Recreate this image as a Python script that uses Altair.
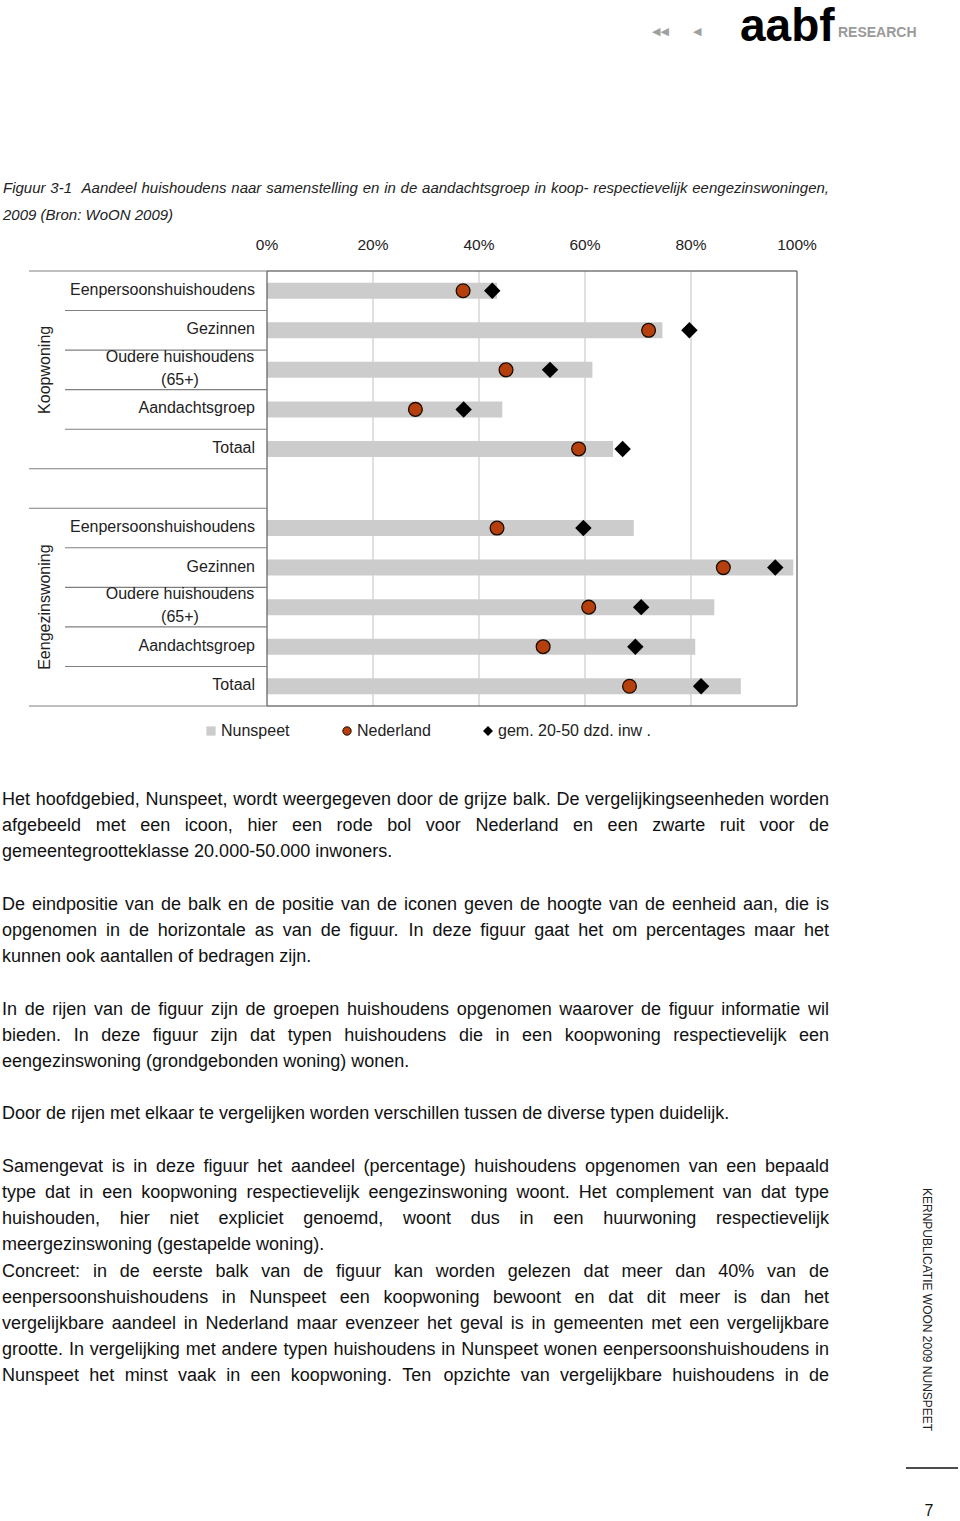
import altair as alt
import pandas as pd

# ---------------- data ----------------
groups = ["Koopwoning", "Eengezinswoning"]
categories = ["Eenpersoonshuishoudens", "Gezinnen", "Oudere huishoudens (65+)",
              "Aandachtsgroep", "Totaal"]
nunspeet_koop = [43.4, 74.6, 61.4, 44.4, 65.3]
nederland_koop = [37.0, 72.0, 45.1, 28.0, 58.8]
gem_koop = [42.5, 79.7, 53.4, 37.1, 67.1]
nunspeet_eg = [69.2, 99.3, 84.4, 80.8, 89.4]
nederland_eg = [43.4, 86.1, 60.7, 52.1, 68.4]
gem_eg = [59.7, 95.9, 70.6, 69.5, 81.9]
tick_values = [0, 20, 40, 60, 80, 100]
tick_labels = ["0%", "20%", "40%", "60%", "80%", "100%"]
legend_labels = ["Nunspeet", "Nederland", "gem. 20-50 dzd. inw ."]

caption_lines = [
    "Figuur 3-1  Aandeel huishoudens naar samenstelling en in de aandachtsgroep in koop- respectievelijk eengezinswoningen,",
    "2009 (Bron: WoON 2009)",
]
paragraphs = [
    ["Het hoofdgebied, Nunspeet, wordt weergegeven door de grijze balk. De vergelijkingseenheden worden",
     "afgebeeld met een icoon, hier een rode bol voor Nederland en een zwarte ruit voor de",
     "gemeentegrootteklasse 20.000-50.000 inwoners."],
    ["De eindpositie van de balk en de positie van de iconen geven de hoogte van de eenheid aan, die is",
     "opgenomen in de horizontale as van de figuur. In deze figuur gaat het om percentages maar het",
     "kunnen ook aantallen of bedragen zijn."],
    ["In de rijen van de figuur zijn de groepen huishoudens opgenomen waarover de figuur informatie wil",
     "bieden. In deze figuur zijn dat typen huishoudens die in een koopwoning respectievelijk een",
     "eengezinswoning (grondgebonden woning) wonen."],
    ["Door de rijen met elkaar te vergelijken worden verschillen tussen de diverse typen duidelijk."],
    ["Samengevat is in deze figuur het aandeel (percentage) huishoudens opgenomen van een bepaald",
     "type dat in een koopwoning respectievelijk eengezinswoning woont. Het complement van dat type",
     "huishouden, hier niet expliciet genoemd, woont dus in een huurwoning respectievelijk",
     "meergezinswoning (gestapelde woning).",
     "Concreet: in de eerste balk van de figuur kan worden gelezen dat meer dan 40% van de",
     "eenpersoonshuishoudens in Nunspeet een koopwoning bewoont en dat dit meer is dan het",
     "vergelijkbare aandeel in Nederland maar evenzeer het geval is in gemeenten met een vergelijkbare",
     "grootte. In vergelijking met andere typen huishoudens in Nunspeet wonen eenpersoonshuishoudens in",
     "Nunspeet het minst vaak in een koopwoning. Ten opzichte van vergelijkbare huishoudens in de"],
]
ragged_lines = {"gemeentegrootteklasse 20.000-50.000 inwoners.",
                "kunnen ook aantallen of bedragen zijn.",
                "eengezinswoning (grondgebonden woning) wonen.",
                "Door de rijen met elkaar te vergelijken worden verschillen tussen de diverse typen duidelijk.",
                "meergezinswoning (gestapelde woning).",
                "2009 (Bron: WoON 2009)"}
side_text = "KERNPUBLICATIE WOON 2009 NUNSPEET"
page_number = "7"

# ---------------- text layout helpers (Arial/Helvetica metrics) ----------------
_w = {}
for ch, v in zip("abcdefghijklmnopqrstuvwxyz",
                 [556, 556, 500, 556, 556, 278, 556, 556, 222, 222, 500, 222, 833,
                  556, 556, 556, 556, 333, 500, 278, 556, 500, 722, 500, 500, 500]):
    _w[ch] = v
for ch, v in zip("ABCDEFGHIJKLMNOPQRSTUVWXYZ",
                 [667, 667, 722, 722, 667, 611, 778, 722, 278, 500, 667, 556, 833,
                  722, 778, 667, 778, 722, 667, 611, 722, 667, 944, 667, 667, 611]):
    _w[ch] = v
for ch in "0123456789":
    _w[ch] = 556
_w.update({" ": 278, ",": 278, ".": 278, "-": 333, "(": 333, ")": 333,
           ":": 278, "%": 889, "+": 584})


def tw(s, size):
    return sum(_w.get(c, 556) for c in s) * size / 1000.0


def layout(lines, baselines, x0, x1, size):
    out = []
    for line, yb in zip(lines, baselines):
        words = line.split(" ")
        if line not in ragged_lines and len(words) > 1:
            gap = (x1 - x0 - sum(tw(w, size) for w in words)) / (len(words) - 1)
        else:
            gap = tw(" ", size)
        x = x0
        for w in words:
            if w:
                out.append({"x": x, "y": yb, "t": w})
            x += tw(w, size) + gap
    return out


body_baselines = [[805, 831, 857], [910, 936, 962], [1015, 1041, 1067], [1119],
                  [1172, 1198, 1224, 1250, 1277, 1303, 1329, 1355, 1381]]
body_words = []
for p, bl in zip(paragraphs, body_baselines):
    body_words += layout(p, bl, 2, 829, 18)
df_body = pd.DataFrame(body_words)
df_caption = pd.DataFrame(layout(caption_lines, [193, 220], 3, 829, 15))

# ---------------- chart data ----------------
rows = []
for gi, (g, nun, ned, gem) in enumerate([(groups[0], nunspeet_koop, nederland_koop, gem_koop),
                                          (groups[1], nunspeet_eg, nederland_eg, gem_eg)]):
    for ci, c in enumerate(categories):
        rows.append({"group": g, "cat": c, "row": gi * 6 + ci + 0.5,
                     "nun": nun[ci], "ned": ned[ci], "gem": gem[ci]})
df = pd.DataFrame(rows)

xs = alt.Scale(domain=[0, 100], range=[267, 797])
ys = alt.Scale(domain=[0, 11], range=[271, 706])
NOAX = None

base = alt.Chart(df)

grid = alt.Chart(pd.DataFrame({"v": tick_values[1:-1]})).transform_calculate(
    y0="0", y1="11").mark_rule(color="#cfcfcf", strokeWidth=1.3).encode(
    x=alt.X("v:Q", scale=xs, axis=NOAX),
    y=alt.Y("y0:Q", scale=ys, axis=NOAX), y2="y1:Q")

bars = base.transform_calculate(zero="0").mark_rule(
    color="#cccccc", strokeWidth=16, strokeCap="butt").encode(
    x=alt.X("zero:Q", scale=xs, axis=NOAX), x2="nun:Q",
    y=alt.Y("row:Q", scale=ys, axis=NOAX))

circles = base.mark_point(shape="circle", filled=True, fill="#b5400e", stroke="#1a0a00",
                          strokeWidth=1.3, size=190, opacity=1).encode(
    x=alt.X("ned:Q", scale=xs, axis=NOAX), y=alt.Y("row:Q", scale=ys, axis=NOAX))

diamonds = base.mark_point(shape="diamond", filled=True, color="#000000",
                           size=270, opacity=1).encode(
    x=alt.X("gem:Q", scale=xs, axis=NOAX), y=alt.Y("row:Q", scale=ys, axis=NOAX))

# frame lines
frame_h = alt.Chart(pd.DataFrame({"b": [0, 11]})).transform_calculate(
    a="0", z="100").mark_rule(color="#777777", strokeWidth=1.3).encode(
    x=alt.X("a:Q", scale=xs, axis=NOAX), x2="z:Q",
    y=alt.Y("b:Q", scale=ys, axis=NOAX))
frame_v = alt.Chart(pd.DataFrame({"v": [0, 100]})).transform_calculate(
    a="0", z="11").mark_rule(color="#666666", strokeWidth=1.3).encode(
    x=alt.X("v:Q", scale=xs, axis=NOAX),
    y=alt.Y("a:Q", scale=ys, axis=NOAX), y2="z:Q")

sep_df = pd.DataFrame({"b": [0, 5, 6, 11, 1, 2, 3, 4, 7, 8, 9, 10],
                       "x0": [29] * 4 + [65] * 8})
separators = alt.Chart(sep_df).mark_rule(color="#808080", strokeWidth=1.1).encode(
    x=alt.X("x0:Q", scale=None, axis=NOAX), x2=alt.value(267),
    y=alt.Y("b:Q", scale=ys, axis=NOAX))

ticks = alt.Chart(pd.DataFrame({"v": tick_values, "t": tick_labels})).mark_text(
    fontSize=15.5, font="Liberation Sans", color="#222222", baseline="middle").encode(
    x=alt.X("v:Q", scale=xs, axis=NOAX), y=alt.value(245), text="t:N")

single_df = df[df["cat"] != categories[2]]
row_labels = alt.Chart(single_df).mark_text(
    fontSize=16, font="Liberation Sans", color="#222222", align="right",
    baseline="middle", dy=-1).encode(
    x=alt.value(255), y=alt.Y("row:Q", scale=ys, axis=NOAX), text="cat:N")

oud_df = df[df["cat"] == categories[2]]
oud1 = alt.Chart(oud_df).mark_text(
    fontSize=16, font="Liberation Sans", color="#222222", align="center",
    baseline="middle", dy=-13).encode(
    x=alt.value(180), y=alt.Y("row:Q", scale=ys, axis=NOAX),
    text=alt.value("Oudere huishoudens"))
oud2 = alt.Chart(oud_df).mark_text(
    fontSize=16, font="Liberation Sans", color="#222222", align="center",
    baseline="middle", dy=10).encode(
    x=alt.value(180), y=alt.Y("row:Q", scale=ys, axis=NOAX),
    text=alt.value("(65+)"))

grp_df = pd.DataFrame({"g": groups, "row": [2.5, 8.5]})
group_labels = alt.Chart(grp_df).mark_text(
    fontSize=16, font="Liberation Sans", color="#222222", angle=270,
    align="center", baseline="middle").encode(
    x=alt.value(45), y=alt.Y("row:Q", scale=ys, axis=NOAX), text="g:N")

# legend
leg_y = 731
leg_sq = alt.Chart(pd.DataFrame({"a": [0]})).mark_point(
    shape="square", filled=True, color="#cccccc", size=85, opacity=1).encode(
    x=alt.value(211), y=alt.value(leg_y))
leg_ci = alt.Chart(pd.DataFrame({"a": [0]})).mark_point(
    shape="circle", filled=True, fill="#b5400e", stroke="#1a0a00", strokeWidth=1,
    size=70, opacity=1).encode(x=alt.value(347), y=alt.value(leg_y))
leg_di = alt.Chart(pd.DataFrame({"a": [0]})).mark_point(
    shape="diamond", filled=True, color="#000000", size=100, opacity=1).encode(
    x=alt.value(488), y=alt.value(leg_y))
leg_text = alt.Chart(pd.DataFrame({"t": legend_labels, "x": [221, 357, 498]})).mark_text(
    fontSize=16, font="Liberation Sans", color="#222222", align="left",
    baseline="middle").encode(
    x=alt.X("x:Q", scale=None, axis=NOAX), y=alt.value(leg_y), text="t:N")

# page text
caption = alt.Chart(df_caption).mark_text(
    fontSize=15, font="Liberation Sans", fontStyle="italic", color="#222222",
    align="left", baseline="alphabetic").encode(
    x=alt.X("x:Q", scale=None, axis=NOAX), y=alt.Y("y:Q", scale=None, axis=NOAX),
    text="t:N")
body = alt.Chart(df_body).mark_text(
    fontSize=18, font="Liberation Sans", color="#111111",
    align="left", baseline="alphabetic").encode(
    x=alt.X("x:Q", scale=None, axis=NOAX), y=alt.Y("y:Q", scale=None, axis=NOAX),
    text="t:N")

one = pd.DataFrame({"a": [0]})
arrows1 = alt.Chart(one).mark_text(fontSize=11, font="DejaVu Sans", color="#a0a0a0",
                                   align="left", baseline="middle").encode(
    x=alt.value(652), y=alt.value(32), text=alt.value("◀◀"))
arrows2 = alt.Chart(one).mark_text(fontSize=11, font="DejaVu Sans", color="#a0a0a0",
                                   align="left", baseline="middle").encode(
    x=alt.value(693), y=alt.value(32), text=alt.value("◀"))
logo = alt.Chart(one).mark_text(fontSize=46, font="Liberation Sans",
                                fontWeight="bold", color="#000000",
                                align="left", baseline="alphabetic").encode(
    x=alt.value(740), y=alt.value(41), text=alt.value("aabf"))
research = alt.Chart(one).mark_text(fontSize=14, font="Liberation Sans", fontWeight="bold",
                                    color="#9a9a9a", align="left", baseline="alphabetic").encode(
    x=alt.value(838), y=alt.value(37), text=alt.value("RESEARCH"))
side = alt.Chart(one).mark_text(fontSize=12, font="Liberation Sans", color="#222222",
                                angle=90, align="left", baseline="middle").encode(
    x=alt.value(927), y=alt.value(1188), text=alt.value(side_text))
foot_rule = alt.Chart(one).mark_rule(color="#111111", strokeWidth=1.5).encode(
    x=alt.value(906), x2=alt.value(958), y=alt.value(1468))
pnum = alt.Chart(one).mark_text(fontSize=16, font="Liberation Sans", color="#111111",
                                align="center", baseline="middle").encode(
    x=alt.value(929), y=alt.value(1511), text=alt.value(page_number))

chart = alt.layer(
    grid, bars, frame_h, frame_v, separators, circles, diamonds,
    ticks, row_labels, oud1, oud2, group_labels,
    leg_sq, leg_ci, leg_di, leg_text,
    caption, body, arrows1, arrows2, logo, research, side, foot_rule, pnum
).resolve_scale(x="independent", y="independent").properties(
    width=960, height=1521, padding=0, autosize="none", background="white"
).configure_view(stroke=None)

chart.save("out.html", embed_options={"renderer": "svg", "actions": False})
